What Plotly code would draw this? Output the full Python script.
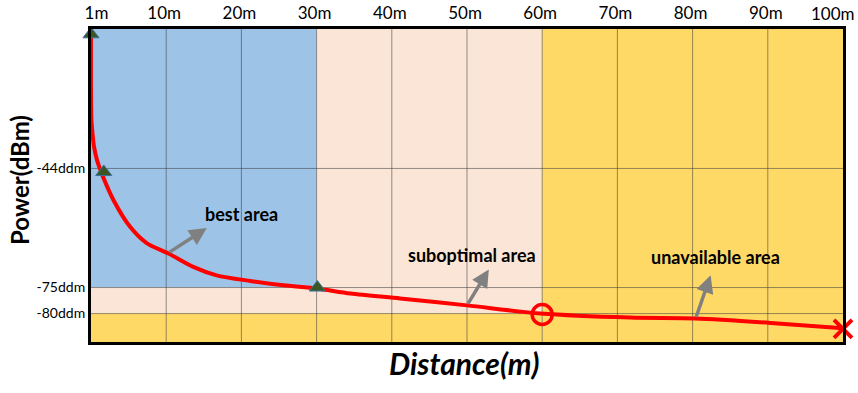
import plotly.graph_objects as go

# ---- data (y values are in the chart's display level units: 0 = bottom, 100 = top) ----
tick_dist = [1, 10, 20, 30, 40, 50, 60, 70, 80, 90, 100]
tick_text = ["1m", "10m", "20m", "30m", "40m", "50m", "60m", "70m", "80m", "90m", "100m"]
grid_dist = [10, 20, 30, 40, 50, 60, 70, 80, 90]

level_pos = [55.45, 17.4, 9.08]
level_text = ["-44ddm", "-75ddm", "-80ddm"]

curve_dist = [0, 0.05, 0.2, 0.4, 0.8, 1.6, 3.0, 5.2, 7.4, 10.3, 13.6, 16.7, 21.2, 25.6,
              30.0, 34.5, 41.1, 50.0, 59.8, 71.7, 80.4, 90.4, 100]
curve_level = [99.0, 71.0, 66.6, 62.4, 58.1, 52.8, 45.3, 36.8, 31.6, 28.3, 24.0, 21.3, 19.5, 18.1,
               17.1, 15.5, 13.9, 11.7, 9.1, 7.8, 7.5, 6.1, 4.4]

tri_dist = [0, 1.7, 30.1]
tri_level = [98.3, 54.3, 17.4]
circle_dist = [60]
circle_level = [8.8]
cross_dist = [100]
cross_level = [4.2]

zones_text = ["best area", "suboptimal area", "unavailable area"]
zones_label_dist = [20.0, 50.7, 83.1]
zones_label_level = [40.8, 27.7, 27.2]
arrow_tail_dist = [10.25, 50.0, 80.4]
arrow_tail_level = [28.4, 11.7, 7.5]
arrow_head_dist = [15.4, 52.9, 82.4]
arrow_head_level = [36.4, 23.2, 21.3]

BLUE = "#9DC3E6"
PEACH = "#FBE5D6"
YELLOW = "#FFD966"
FONT = "Lato"
TICKFONT = dict(family=FONT, size=17, color="#000000")

fig = go.Figure()

fig.add_trace(go.Scatter(x=curve_dist, y=curve_level, mode="lines",
                         line=dict(color="#FF0000", width=4, shape="spline", smoothing=0.8),
                         hoverinfo="skip", cliponaxis=False))
fig.add_trace(go.Scatter(x=tri_dist, y=tri_level, mode="markers",
                         marker=dict(symbol="triangle-up", size=14, color="#385723",
                                     line=dict(color="#41719C", width=1)),
                         cliponaxis=False))
fig.add_trace(go.Scatter(x=circle_dist, y=circle_level, mode="markers",
                         marker=dict(symbol="circle-open", size=20, color="#FF0000",
                                     line=dict(color="#FF0000", width=3.5)),
                         cliponaxis=False))
fig.add_trace(go.Scatter(x=cross_dist, y=cross_level, mode="markers",
                         marker=dict(symbol="x-thin", size=18, color="#FF0000",
                                     line=dict(color="#FF0000", width=4)),
                         cliponaxis=False))

# zone backgrounds
x_lo, x_best, x_sub, x_hi = 0, grid_dist[2], grid_dist[5], 100
y_lo, y_hi = 0, 100
shapes = [
    dict(type="rect", x0=x_lo, x1=x_best, y0=level_pos[1], y1=y_hi, fillcolor=BLUE),
    dict(type="rect", x0=x_best, x1=x_sub, y0=level_pos[2], y1=y_hi, fillcolor=PEACH),
    dict(type="rect", x0=x_lo, x1=x_best, y0=level_pos[2], y1=level_pos[1], fillcolor=PEACH),
    dict(type="rect", x0=x_sub, x1=x_hi, y0=y_lo, y1=y_hi, fillcolor=YELLOW),
    dict(type="rect", x0=x_lo, x1=x_sub, y0=y_lo, y1=level_pos[2], fillcolor=YELLOW),
]
for s in shapes:
    s.update(xref="x", yref="y", layer="below", line=dict(width=0))
for g in grid_dist:
    shapes.append(dict(type="line", xref="x", yref="y", x0=g, x1=g, y0=y_lo, y1=y_hi,
                       layer="below", line=dict(color="rgba(60,60,60,0.55)", width=1)))
for lv in level_pos:
    shapes.append(dict(type="line", xref="x", yref="y", x0=x_lo, x1=x_hi, y0=lv, y1=lv,
                       layer="below", line=dict(color="rgba(60,60,60,0.55)", width=1)))

annotations = []
for t, lx, ly in zip(zones_text, zones_label_dist, zones_label_level):
    annotations.append(dict(x=lx, y=ly, xref="x", yref="y", text="<b>" + t + "</b>",
                            showarrow=False, font=dict(family=FONT, size=18, color="#000000")))
for tx, ty, hx, hy in zip(arrow_tail_dist, arrow_tail_level, arrow_head_dist, arrow_head_level):
    annotations.append(dict(x=hx, y=hy, ax=tx, ay=ty, xref="x", yref="y", axref="x", ayref="y",
                            text="", showarrow=True, arrowhead=2, arrowsize=1, arrowwidth=3.5,
                            arrowcolor="#808080"))
# the edge tick label (100m) is drawn right-aligned so it stays inside the page
annotations.append(dict(x=tick_dist[-1], y=1, xref="x", yref="paper", text=tick_text[-1],
                        showarrow=False, xanchor="right", yanchor="middle", xshift=14, yshift=16,
                        font=TICKFONT))
annotations.append(dict(x=-0.096, y=0.517, xref="paper", yref="paper", text="<b>Power(dBm)</b>",
                        textangle=-90, showarrow=False, xanchor="center", yanchor="middle",
                        font=dict(family=FONT, size=24, color="#000000")))
annotations.append(dict(x=0.497, y=-0.066, xref="paper", yref="paper", text="<b><i>Distance(m)</i></b>",
                        showarrow=False, xanchor="center", yanchor="middle",
                        font=dict(family=FONT, size=30, color="#000000")))

fig.update_layout(
    width=858, height=393,
    margin=dict(l=91, r=15, t=29, b=51),
    paper_bgcolor="white", plot_bgcolor="white",
    showlegend=False,
    shapes=shapes, annotations=annotations,
    xaxis=dict(range=[0, 100], side="top", tickvals=tick_dist[:-1], ticktext=tick_text[:-1],
               showgrid=False, zeroline=False, showline=True, mirror=True, automargin=False,
               linecolor="black", linewidth=3, ticks="", ticklabelshift=-2,
               ticklabeloverflow="allow", tickfont=TICKFONT),
    yaxis=dict(range=[0, 100], tickvals=level_pos, ticktext=level_text,
               showgrid=False, zeroline=False, showline=True, mirror=True, automargin=False,
               linecolor="black", linewidth=3, ticks="",
               tickfont=dict(family=FONT, size=14, color="#000000")),
)

fig.write_html("out.html", config={"displayModeBar": False},
               post_script="document.body.style.margin='0';document.body.style.overflow='hidden';")
